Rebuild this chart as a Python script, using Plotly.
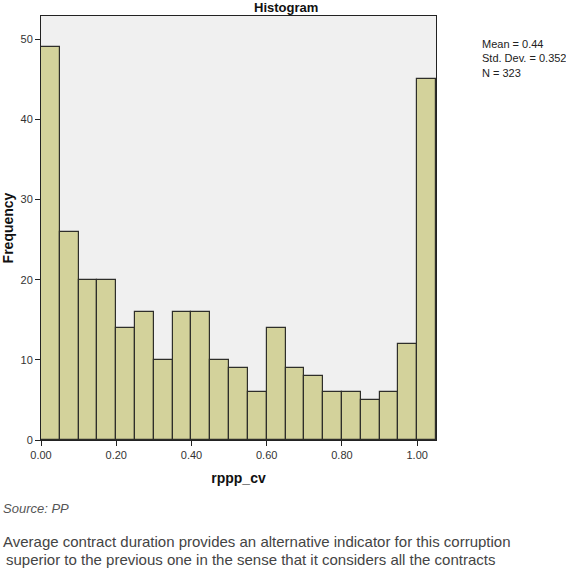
import plotly.graph_objects as go

bin_left = [0.00, 0.05, 0.10, 0.15, 0.20, 0.25, 0.30, 0.35, 0.40, 0.45, 0.50,
            0.55, 0.60, 0.65, 0.70, 0.75, 0.80, 0.85, 0.90, 0.95, 1.00]
frequency = [49, 26, 20, 20, 14, 16, 10, 16, 16, 10, 9, 6, 14, 9, 8, 6, 6, 5, 6, 12, 45]
bin_width = 0.05
x_ticks = [0.0, 0.2, 0.4, 0.6, 0.8, 1.0]
x_ticklabels = ["0.00", "0.20", "0.40", "0.60", "0.80", "1.00"]
y_ticks = [0, 10, 20, 30, 40, 50]
stats_text = "Mean = 0.44<br>Std. Dev. = 0.352<br>N = 323"

W, H = 566, 569
L, R, T, B = 41, 436, 16, 440

fig = go.Figure()
fig.add_trace(go.Bar(
    x=[b + bin_width / 2 for b in bin_left],
    y=frequency,
    width=bin_width,
    marker=dict(color="#D3D29B", line=dict(color="#2E2E2A", width=1.2)),
    showlegend=False,
))

def px(xp):
    return (xp - L) / (R - L)

def py(yp):
    return (B - yp) / (B - T)

font = "Liberation Sans, Arial, sans-serif"
fig.update_layout(
    width=W, height=H,
    margin=dict(l=L, r=W - R, t=T, b=H - B),
    paper_bgcolor="white",
    plot_bgcolor="#F0F0F0",
    bargap=0,
    font=dict(family=font, color="#333333"),
    xaxis=dict(range=[0, 1.05], tickvals=x_ticks, ticktext=x_ticklabels,
               ticks="outside", ticklen=5, tickcolor="#222", tickwidth=1,
               showgrid=False, zeroline=False, showline=True, linecolor="#222",
               linewidth=1, mirror=True, tickfont=dict(size=11, color="#333"),
               automargin=False,
               title=dict(text="<b>rppp_cv</b>", font=dict(size=14, color="#111"), standoff=12)),
    yaxis=dict(range=[0, 52.9], tickvals=y_ticks,
               ticks="outside", ticklen=5, tickcolor="#222", tickwidth=1,
               showgrid=False, zeroline=False, showline=True, linecolor="#222",
               linewidth=1, mirror=True, tickfont=dict(size=11, color="#333"),
               automargin=False,
               title=dict(text="<b>Frequency</b>", font=dict(size=14, color="#111"), standoff=6)),
)

annos = [
    dict(text="<b>Histogram</b>", x=px(286), y=py(-2), xanchor="center", yanchor="top",
         font=dict(size=13, color="#111")),
    dict(text=stats_text, x=px(480), y=py(36), xanchor="left", yanchor="top",
         align="left", font=dict(size=11, color="#222")),
    dict(text="<i>Source: PP</i>", x=px(1), y=py(508), xanchor="left", yanchor="middle",
         font=dict(size=13, color="#555")),
    dict(text="Average contract duration provides an alternative indicator for this corruption",
         x=px(1), y=py(541), xanchor="left", yanchor="middle",
         font=dict(size=15, color="#444")),
    dict(text="superior to the previous one in the sense that it considers all the contracts",
         x=px(4), y=py(559), xanchor="left", yanchor="middle",
         font=dict(size=15, color="#444")),
]
for a in annos:
    fig.add_annotation(xref="paper", yref="paper", showarrow=False, **a)

fig.write_html("out.html")
